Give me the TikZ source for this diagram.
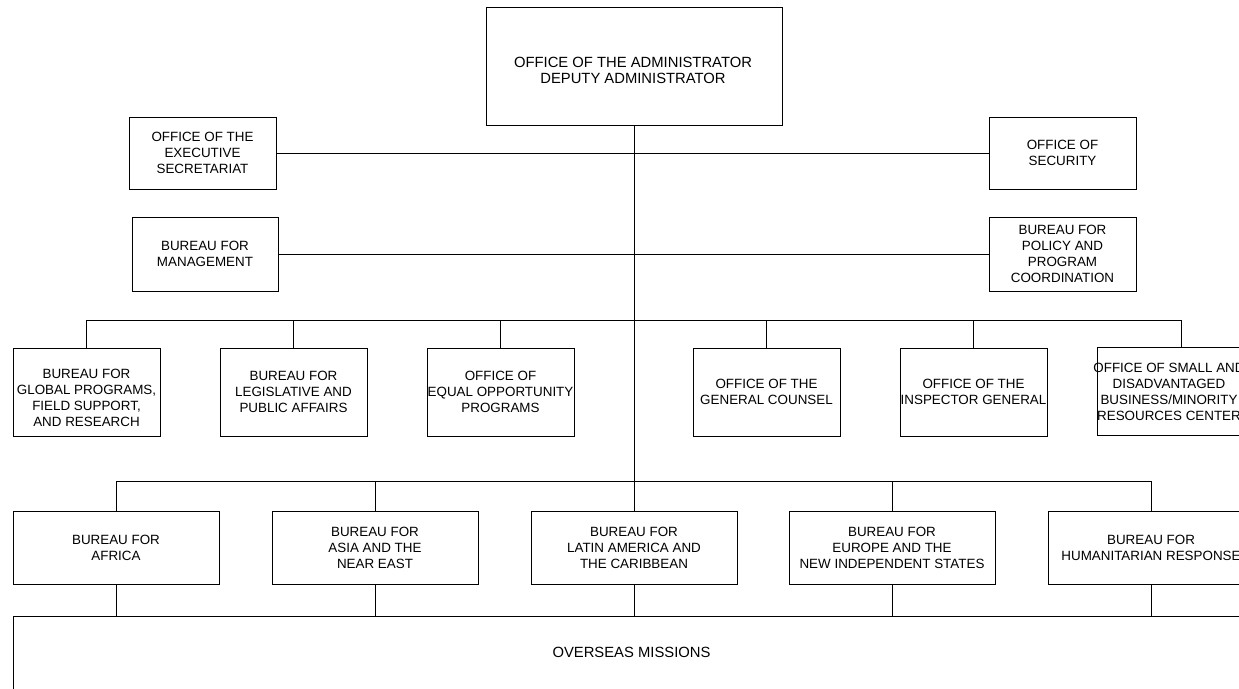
\documentclass[tikz,border=0pt]{standalone}
\usepackage{fontspec}
\setmainfont{Liberation Sans}
\begin{document}
\begin{tikzpicture}[x=1pt,y=-1pt,
  box/.style={draw=black, line width=0.8pt, rectangle, inner sep=0pt, align=center,
    font=\fontsize{13.4}{16}\selectfont},
  txt/.style={inner sep=0pt, align=center, font=\fontsize{13.4}{16}\selectfont},
  bigtxt/.style={inner sep=0pt, align=center, font=\fontsize{14.8}{16}\selectfont},
  link/.style={draw=black, line width=0.8pt}]
\useasboundingbox (0,0) rectangle (1239,688);
\clip (0,0) rectangle (1239,688);

% top
\node[box, minimum width=296, minimum height=118] (admin) at (634,66) {};
\node[bigtxt] (admintxt) at (633,70) {OFFICE OF THE ADMINISTRATOR\\DEPUTY ADMINISTRATOR};

% staff offices
\node[box, minimum width=147, minimum height=72] (exec) at (202.5,153) {OFFICE OF THE\\EXECUTIVE\\SECRETARIAT};
\node[box, minimum width=146, minimum height=74] (mgmt) at (205,254) {BUREAU FOR\\MANAGEMENT};
\node[box, minimum width=147, minimum height=72] (sec) at (1062.5,153) {OFFICE OF\\SECURITY};
\node[box, minimum width=147, minimum height=74] (pol) at (1062.5,254) {BUREAU FOR\\POLICY AND\\PROGRAM\\COORDINATION};

% row 3
\node[box, minimum width=147, minimum height=88] (gp) at (86.5,392) {};
\node[txt] (gptxt) at (86.5,398) {BUREAU FOR\\GLOBAL PROGRAMS,\\FIELD SUPPORT,\\AND RESEARCH};
\node[box, minimum width=147, minimum height=88] (leg) at (293.5,392) {BUREAU FOR\\LEGISLATIVE AND\\PUBLIC AFFAIRS};
\node[box, minimum width=147, minimum height=88] (eeo) at (500.5,392) {OFFICE OF\\EQUAL OPPORTUNITY\\PROGRAMS};
\node[box, minimum width=147, minimum height=88] (gc) at (766.5,392) {OFFICE OF THE\\GENERAL COUNSEL};
\node[box, minimum width=147, minimum height=88] (ig) at (973.5,392) {OFFICE OF THE\\INSPECTOR GENERAL};
\node[box, minimum width=147, minimum height=88] (sdb) at (1170.5,391) {};
\node[txt] (sdbtxt) at (1169,392) {OFFICE OF SMALL AND\\DISADVANTAGED\\BUSINESS/MINORITY\\RESOURCES CENTER};
\coordinate (sdbtop) at (1181,347);

% row 4
\node[box, minimum width=206, minimum height=73] (afr) at (116,547.5) {BUREAU FOR\\AFRICA};
\node[box, minimum width=206, minimum height=73] (asia) at (375,547.5) {BUREAU FOR\\ASIA AND THE\\NEAR EAST};
\node[box, minimum width=206, minimum height=73] (lac) at (634,547.5) {BUREAU FOR\\LATIN AMERICA AND\\THE CARIBBEAN};
\node[box, minimum width=206, minimum height=73] (eur) at (892,547.5) {BUREAU FOR\\EUROPE AND THE\\NEW INDEPENDENT STATES};
\node[box, minimum width=206, minimum height=73] (hum) at (1151,547.5) {BUREAU FOR\\HUMANITARIAN RESPONSE};

% overseas
\node[box, minimum width=1252, minimum height=104, anchor=north west] (os) at (13,616) {};
\node[bigtxt] (ostxt) at (631.5,652) {OVERSEAS MISSIONS};

% connectors
\draw[link] (admin.south) -- (lac.north);
\draw[link] (exec.east) -- (sec.west);
\draw[link] (mgmt.east) -- (pol.west);
\coordinate (bus3) at (634,320);
\foreach \n in {gp,leg,eeo,gc,ig} \draw[link] (bus3) -| (\n.north);
\draw[link] (bus3) -| (sdbtop);
\coordinate (bus4) at (634,481);
\foreach \n in {afr,asia,eur,hum} \draw[link] (bus4) -| (\n.north);
\foreach \n in {afr,asia,lac,eur,hum} \draw[link] (\n.south) -- (\n.south |- os.north);
\end{tikzpicture}
\end{document}
